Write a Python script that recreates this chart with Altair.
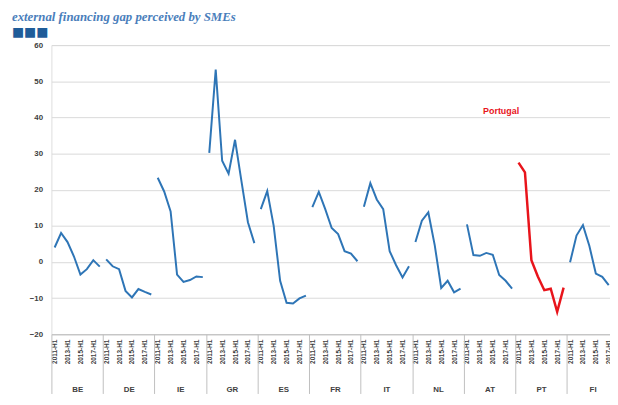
import json
import altair as alt
import pandas as pd

countries = ["BE", "DE", "IE", "GR", "ES", "FR", "IT", "NL", "AT", "PT", "FI"]
tick_labels = ["2011-H1", "2013-H1", "2015-H1", "2017-H1"]
slots_per_country = 8

BE = [4, 8, 5.5, 1.5, -3.5, -2, 0.5, -1.3]
DE = [0.7, -1.2, -2, -8, -9.8, -7.5, -8.3, -9]
IE = [23.3, 19.5, 14, -3.5, -5.5, -5, -4, -4.2]
GR = [30.2, 53.2, 28, 24.4, 33.8, 22.3, 11, 5.2]
ES = [14.6, 19.6, 10, -5.2, -11.3, -11.5, -10.1, -9.3]
FR = [15.2, 19.4, 14.6, 9.4, 7.7, 3, 2.3, 0.2]
IT = [15.3, 21.8, 17.3, 14.6, 3, -0.9, -4.3, -1.2]
NL = [5.5, 11.4, 13.7, 4.6, -7.2, -5.2, -8.4, -7.4]
AT = [10.4, 1.9, 1.7, 2.5, 2, -3.6, -5.2, -7.4]
PT = [27.5, 24.8, 0.5, -4, -7.8, -7.4, -13.8, -7.1]
FI = [-0.1, 7.3, 10.2, 4.4, -3.2, -4.1, -6.4]

series = [BE, DE, IE, GR, ES, FR, IT, NL, AT, PT, FI]
highlight = "PT"
annotation_text = ["Portugal"]
annotation_pos = [69.3]
annotation_value = [41.8]

rows = []
for g, (c, vals) in enumerate(zip(countries, series)):
    for k, v in enumerate(vals):
        rows.append({"country": c, "pos": g * slots_per_country + k, "value": v})
df = pd.DataFrame(rows)
df_blue = df[df.country != highlight]
df_red = df[df.country == highlight]
df_ann = pd.DataFrame({"pos": annotation_pos, "value": annotation_value, "text": annotation_text})

xmax = 86.2
xs = alt.Scale(domain=[-0.5, xmax], nice=False, zero=False)
ys = alt.Scale(domain=[-20, 60], nice=False, zero=False)

year_vals = [g * 8 + k for g in range(len(countries)) for k in (0, 2, 4, 6) if g * 8 + k <= xmax]
center_vals = [g * 8 + 3.5 for g in range(len(countries))]
bound_vals = [g * 8 - 0.5 for g in range(len(countries) + 1) if g * 8 - 0.5 <= xmax]

year_expr = json.dumps(tick_labels) + "[floor((datum.value % 8) / 2)]"
country_expr = json.dumps(countries) + "[floor(datum.value / 8)]"

lab_font = "Liberation Sans"

blue = alt.Chart(df_blue).mark_line(color="#2E75B6", strokeWidth=2).encode(
    x=alt.X("pos:Q", scale=xs, axis=alt.Axis(
        orient="bottom",
        values=year_vals, labelExpr=year_expr, labelAngle=270, labelFontSize=6.5,
        labelFont=lab_font, labelFontWeight="bold", labelColor="#404040",
        labelPadding=5, ticks=False, domain=True, domainColor="#BFBFBF",
        grid=False, title=None, labelOverlap=False, labelFlush=False)),
    y=alt.Y("value:Q", scale=ys, axis=alt.Axis(
        orient="left",
        values=list(range(-20, 61, 10)), grid=True, gridColor="#D9D9D9", gridWidth=1,
        domain=False, ticks=False, labelPadding=9, labelFontSize=8, labelFont=lab_font,
        labelFontWeight="bold", labelColor="#404040", title=None)),
    detail="country:N",
)

red = alt.Chart(df_red).mark_line(color="#E8141B", strokeWidth=2.5).encode(
    x=alt.X("pos:Q", scale=xs, axis=alt.Axis(
        orient="bottom",
        values=center_vals, labelExpr=country_expr, labelAngle=0, labelFontSize=8,
        labelFont=lab_font, labelFontWeight="bold", labelColor="#404040",
        labelPadding=3, offset=49, ticks=False, domain=False, grid=False, title=None,
        labelOverlap=False, labelFlush=False, labelBaseline="top")),
    y=alt.Y("value:Q", scale=ys, axis=None),
)

ann = alt.Chart(df_ann).mark_text(color="#E8141B", fontWeight="bold", fontSize=9, font=lab_font).encode(
    x=alt.X("pos:Q", scale=xs, axis=alt.Axis(
        orient="bottom",
        values=bound_vals, labels=False, ticks=True, tickSize=60, tickColor="#BFBFBF",
        tickWidth=1, domain=False, grid=False, title=None, offset=0)),
    y=alt.Y("value:Q", scale=ys, axis=None),
    text="text:N",
)

chart = alt.layer(blue, red, ann).resolve_axis(x="independent", y="independent").properties(
    width=566,
    height=293,
    padding={"left": 44, "top": 35, "right": 0, "bottom": 61},
    autosize=alt.AutoSizeParams(type="none"),
    title=alt.TitleParams(
        text="external financing gap perceived by SMEs",
        subtitle="■■■",
        anchor="start", frame="group", dx=-40, offset=2,
        font="Liberation Serif", fontStyle="italic", fontWeight="bold",
        fontSize=13, color="#4A7EBB",
        subtitleFont="DejaVu Sans", subtitleFontSize=13, subtitleColor="#1F5C99",
        subtitlePadding=2,
    ),
).configure_view(stroke=None).configure(background="white")

chart.save("out.html", embed_options={"renderer": "svg", "actions": False})
